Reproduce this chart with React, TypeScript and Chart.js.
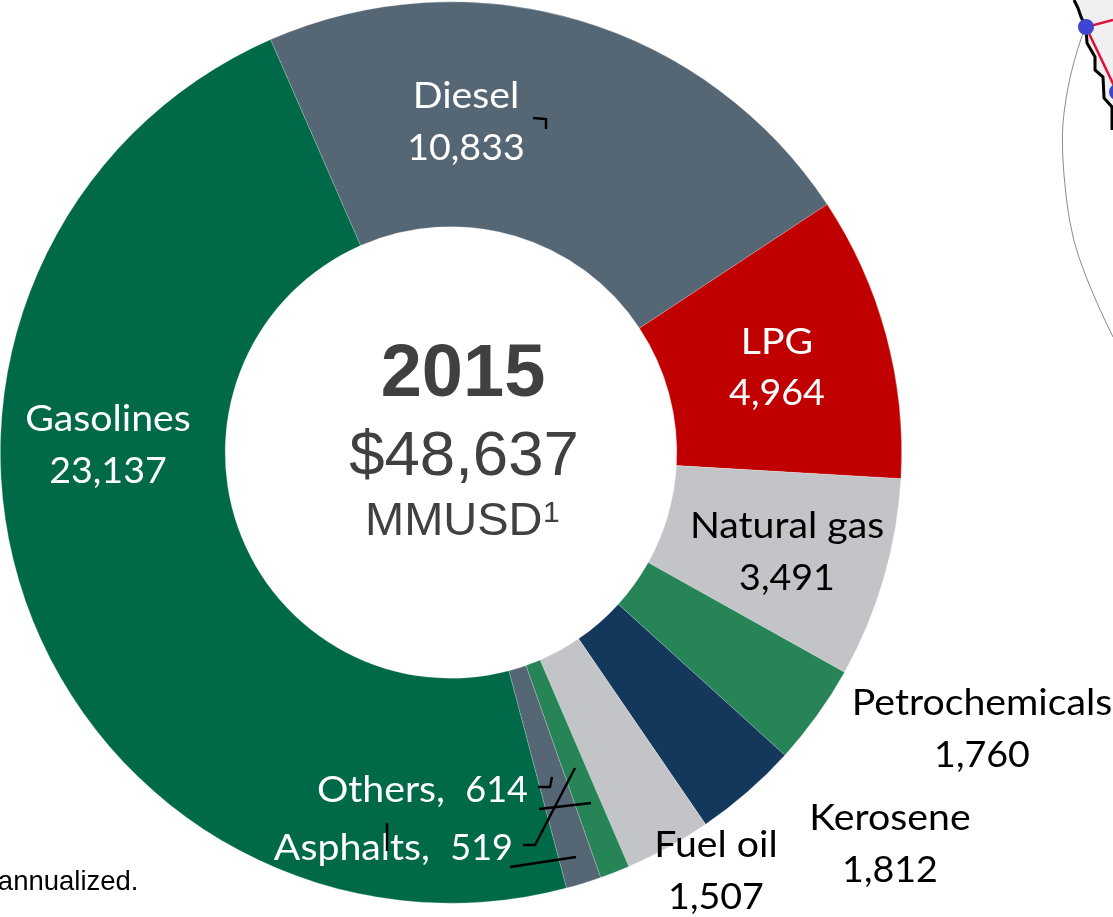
import React, { useEffect, useRef } from "react";
import { Chart, registerables } from "chart.js";

Chart.register(...registerables);

const categories = ["Diesel", "LPG", "Natural gas", "Petrochemicals", "Kerosene", "Fuel oil", "Asphalts", "Others", "Gasolines"];
const values = [10833, 4964, 3491, 1760, 1812, 1507, 519, 614, 23137];
const colors = ["#556675", "#C00000", "#C3C4C8", "#268457", "#14375C", "#C3C4C8", "#268457", "#556675", "#006A48"];

const titleYear = "2015";
const titleTotal = "$48,637";
const titleUnit = "MMUSD";
const footnote = "annualized.";

// Label layout: x, first baseline, second baseline, colour, keyed by category
const labelLayout: Record<string, [number, number, number, string]> = {
  Diesel: [466, 108, 160, "#fff"],
  LPG: [777, 354, 405, "#fff"],
  "Natural gas": [787, 538, 590, "#000"],
  Petrochemicals: [982, 715, 767, "#000"],
  Kerosene: [890, 830, 882, "#000"],
  "Fuel oil": [716, 857, 909, "#000"],
  Gasolines: [108, 431, 483, "#fff"],
};
// name right edge, number right edge, baseline
const inlineLayout: Record<string, [number, number, number]> = {
  Others: [445, 528, 802],
  Asphalts: [430, 513, 860],
};

const strokes: [number, number][][] = [
  [[533, 118], [546, 119], [546, 129]],
  [[538, 787], [550, 787], [552, 777]],
  [[575, 768], [535, 845], [523, 845]],
  [[539, 809], [591, 803]],
  [[510, 867], [576, 857]],
  [[387, 823], [387, 851]],
];

const mapFill: [number, number][] = [[1074, 0], [1078, 8], [1081, 17], [1086, 27], [1087, 43], [1095, 57], [1095, 70], [1103, 77], [1104, 98], [1112, 107], [1112, 130], [1113, 130], [1113, 0]];
const mapCoast: [number, number][] = [[1074, 0], [1078, 8], [1081, 17], [1086, 27], [1087, 43], [1095, 57], [1095, 70], [1103, 77], [1104, 98], [1112, 107], [1112, 130]];
const mapRoute: [number, number][] = [[1113, 20], [1086, 27], [1117, 92]];
const mapCurve: [number, number][] = [[1083, 33], [1072, 65], [1063, 115], [1062, 150], [1066, 200], [1073, 240], [1085, 275], [1100, 310], [1113, 337]];
const mapDots: [number, number][] = [[1086, 27], [1117, 92]];

const NAME_STRETCH = 1.09;
const NUMBER_STRETCH = 1.045;

const path = (ctx: CanvasRenderingContext2D, pts: [number, number][]) => {
  ctx.beginPath();
  pts.forEach(([x, y], i) => (i ? ctx.lineTo(x, y) : ctx.moveTo(x, y)));
};

const smoothPath = (ctx: CanvasRenderingContext2D, pts: [number, number][]) => {
  ctx.beginPath();
  ctx.moveTo(pts[0][0], pts[0][1]);
  for (let i = 1; i < pts.length - 1; i++) {
    const mx = (pts[i][0] + pts[i + 1][0]) / 2;
    const my = (pts[i][1] + pts[i + 1][1]) / 2;
    ctx.quadraticCurveTo(pts[i][0], pts[i][1], mx, my);
  }
  const last = pts[pts.length - 1];
  ctx.lineTo(last[0], last[1]);
};

const stretched = (ctx: CanvasRenderingContext2D, text: string, x: number, y: number, sx: number) => {
  ctx.save();
  ctx.translate(x, y);
  ctx.scale(sx, 1);
  ctx.fillText(text, 0, 0);
  ctx.restore();
};

const annotations = {
  id: "annotations",
  afterDraw(chart: Chart) {
    const ctx = chart.ctx;
    ctx.save();
    ctx.textBaseline = "alphabetic";

    const fmt = (v: number) => v.toLocaleString("en-US");
    ctx.font = "36px Lato";
    categories.forEach((c, i) => {
      const l = labelLayout[c];
      if (l) {
        ctx.textAlign = "center";
        ctx.fillStyle = l[3];
        stretched(ctx, c, l[0], l[1], NAME_STRETCH);
        stretched(ctx, fmt(values[i]), l[0], l[2], NUMBER_STRETCH);
      }
      const n = inlineLayout[c];
      if (n) {
        ctx.textAlign = "right";
        ctx.fillStyle = "#fff";
        stretched(ctx, `${c},`, n[0], n[2], NAME_STRETCH);
        stretched(ctx, fmt(values[i]), n[1], n[2], 1);
      }
    });

    ctx.fillStyle = "#404040";
    ctx.textAlign = "center";
    ctx.font = 'bold 74px "Liberation Sans"';
    ctx.fillText(titleYear, 463, 396);
    ctx.font = '63.5px "Liberation Sans"';
    ctx.fillText(titleTotal, 464, 475);
    ctx.font = '47px "Liberation Sans"';
    ctx.textAlign = "left";
    ctx.fillText(titleUnit, 365, 535);
    ctx.font = '30px "Liberation Sans"';
    ctx.fillText("1", 543, 522);

    ctx.fillStyle = "#000";
    ctx.textAlign = "right";
    ctx.font = '27.5px "Liberation Sans"';
    ctx.fillText(footnote, 138.5, 890);

    ctx.strokeStyle = "#000";
    ctx.lineWidth = 2.4;
    ctx.lineJoin = "miter";
    strokes.forEach((s) => {
      path(ctx, s);
      ctx.stroke();
    });

    path(ctx, mapFill);
    ctx.closePath();
    ctx.fillStyle = "#F0F0F0";
    ctx.fill();
    path(ctx, mapCoast);
    ctx.lineWidth = 3;
    ctx.stroke();
    path(ctx, mapRoute);
    ctx.strokeStyle = "#E0103C";
    ctx.lineWidth = 2.5;
    ctx.stroke();
    smoothPath(ctx, mapCurve);
    ctx.strokeStyle = "#8a8a8a";
    ctx.lineWidth = 1;
    ctx.stroke();
    ctx.fillStyle = "#3F45D0";
    mapDots.forEach(([x, y]) => {
      ctx.beginPath();
      ctx.arc(x, y, 8, 0, Math.PI * 2);
      ctx.fill();
    });
    ctx.restore();
  },
};

export default function App() {
  const ref = useRef<HTMLCanvasElement>(null);
  useEffect(() => {
    document.body.style.margin = "0";
    const chart = new Chart(ref.current!, {
      type: "doughnut",
      data: {
        labels: categories,
        datasets: [{ data: values, backgroundColor: colors, borderColor: "rgba(255,255,255,0.25)", borderWidth: 0.5, borderAlign: "inner" } as any],
      },
      options: {
        responsive: false,
        animation: false,
        cutout: "50%",
        rotation: -23.6,
        layout: { padding: { left: 0, top: 1, right: 211, bottom: 13 } },
        plugins: { legend: { display: false }, tooltip: { enabled: false }, title: { display: false } },
      },
      plugins: [annotations],
    } as any);
    return () => chart.destroy();
  }, []);
  return <canvas ref={ref} width={1113} height={917} style={{ display: "block" }} />;
}
